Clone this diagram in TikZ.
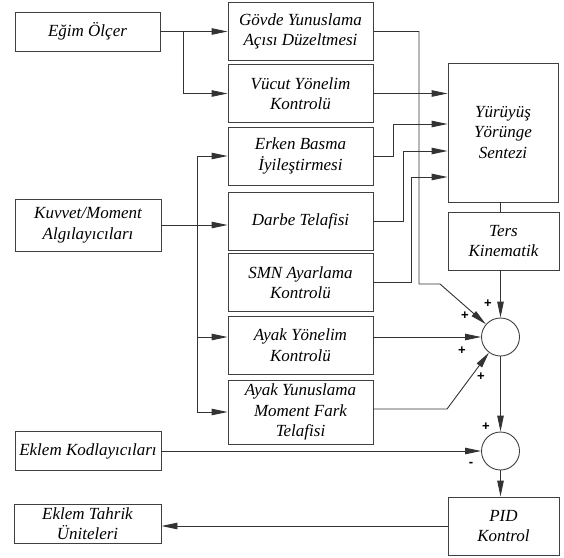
\documentclass[tikz,border=0pt]{standalone}
\usepackage{fontspec}
\setmainfont{Liberation Serif}
\newfontfamily\isaretfont{Liberation Sans}
\usepackage{tikz}
\usetikzlibrary{arrows.meta}
\usetikzlibrary{calc}
\tikzstyle{kutu}=[draw=black!75,line width=0.9pt,align=center,inner sep=0pt,
  font=\itshape\fontsize{17}{20.5}\selectfont]
\tikzstyle{toplam}=[draw=black!75,line width=0.9pt,circle,minimum size=38pt,inner sep=0pt]
\tikzstyle{isaret}=[inner sep=0pt,font=\isaretfont\bfseries\fontsize{13}{13}\selectfont]

\begin{document}
\begin{tikzpicture}[x=1pt,y=-1pt,
    ok/.style={draw=black!80,line width=0.9pt,-{Triangle[length=16pt,width=6.5pt]}},
    hat/.style={draw=black!80,line width=0.9pt}]
      \useasboundingbox (0,0) rectangle (564,557);

      % algilayicilar
      \node[kutu, minimum width=145pt, minimum height=39pt] (egim) at (87.5,31.5) {Eğim Ölçer};
      \node[kutu, minimum width=146pt, minimum height=52pt] (kuvvet) at (88,225) {Kuvvet/Moment\\Algılayıcıları};
      \node[kutu, minimum width=146pt, minimum height=39pt] (kodlayici) at (88,451) {Eklem Kodlayıcıları};
      \node[kutu, minimum width=147pt, minimum height=39pt] (tahrik) at (87.5,523.5) {Eklem Tahrik\\Üniteleri};

      % orta sutun
      \node[kutu, minimum width=145pt, minimum height=58pt] (govde) at (300.5,31.5) {Gövde Yunuslama\\Açısı Düzeltmesi};
      \node[kutu, minimum width=145pt, minimum height=58pt] (vucut) at (300.5,93.5) {Vücut Yönelim\\Kontrolü};
      \node[kutu, minimum width=145pt, minimum height=58pt] (erken) at (300.5,156) {Erken Basma\\İyileştirmesi};
      \node[kutu, minimum width=145pt, minimum height=58pt] (darbe) at (300.5,221.5) {Darbe Telafisi};
      \node[kutu, minimum width=145pt, minimum height=58pt] (smn) at (300.5,282.5) {SMN Ayarlama\\Kontrolü};
      \node[kutu, minimum width=145pt, minimum height=58pt] (ayakyon) at (300.5,345) {Ayak Yönelim\\Kontrolü};
      \node[kutu, minimum width=145pt, minimum height=64pt] (ayakyun) at (300.5,412) {Ayak Yunuslama\\Moment Fark\\Telafisi};

      % sag sutun
      \node[kutu, minimum width=110pt, minimum height=139pt] (yurume) at (503,132.5) {Yürüyüş\\Yörünge\\Sentezi};
      \node[kutu, minimum width=111pt, minimum height=58pt] (ters) at (503.5,241) {Ters\\Kinematik};
      \node[toplam] (sum1) at (500.5,337) {};
      \node[toplam] (sum2) at (500.5,451) {};
      \node[kutu, minimum width=111pt, minimum height=58pt] (pid) at (503.5,526) {PID\\Kontrol};

      \node[isaret] (p1) at (488,304) {+};
      \node[isaret] (p2) at (465,316) {+};
      \node[isaret] (p3) at (462,351) {+};
      \node[isaret] (p4) at (481,377) {+};
      \node[isaret] (p5) at (486,427) {+};
      \node[isaret] (m1) at (471,464) {-};

      \coordinate (dal1) at (183,31.5);
      \coordinate (dal2) at (197,225);
      \coordinate (g1) at (393,124);
      \coordinate (g2) at (403,151);
      \coordinate (g3) at (411,177);
      \coordinate (k1) at (419,284);
      \coordinate (k2) at (440,284);
      \coordinate (k3) at (447,409);

      \draw[ok] (egim.east) -- (govde.west);
      \draw[ok] (dal1) |- (vucut.west);
      \draw[ok] (kuvvet.east) -- (kuvvet.east -| darbe.west);
      \draw[ok] (dal2) |- (erken.west);
      \draw[ok] (dal2) |- (ayakyon.west |- sum1);
      \draw[ok] (dal2) |- (ayakyun.west);

      \draw[ok] (vucut.east) -- (vucut.east -| yurume.west);
      \draw[ok] (erken.east) -| (g1) -- (g1 -| yurume.west);
      \draw[ok] (darbe.east) -| (g2) -- (g2 -| yurume.west);
      \draw[ok] (smn.east) -| (g3) -- (g3 -| yurume.west);

      \draw[ok] (govde.east) -| (k1) -- (k2) -- (sum1);
      \draw[ok] (ayakyon.east |- sum1) -- (sum1);
      \draw[ok] (ayakyun.east |- k3) -- (k3) -- (sum1);

      \draw[hat] (yurume.south -| sum1) -- (ters.north -| sum1);
      \draw[ok] (ters.south -| sum1) -- (sum1);
      \draw[ok] (sum1) -- (sum2);
      \draw[ok] (kodlayici.east) -- (sum2);
      \draw[ok] (sum2) -- (pid.north -| sum2);
      \draw[ok] (pid.west) -- (pid.west -| tahrik.east);
    \end{tikzpicture}
\end{document}
